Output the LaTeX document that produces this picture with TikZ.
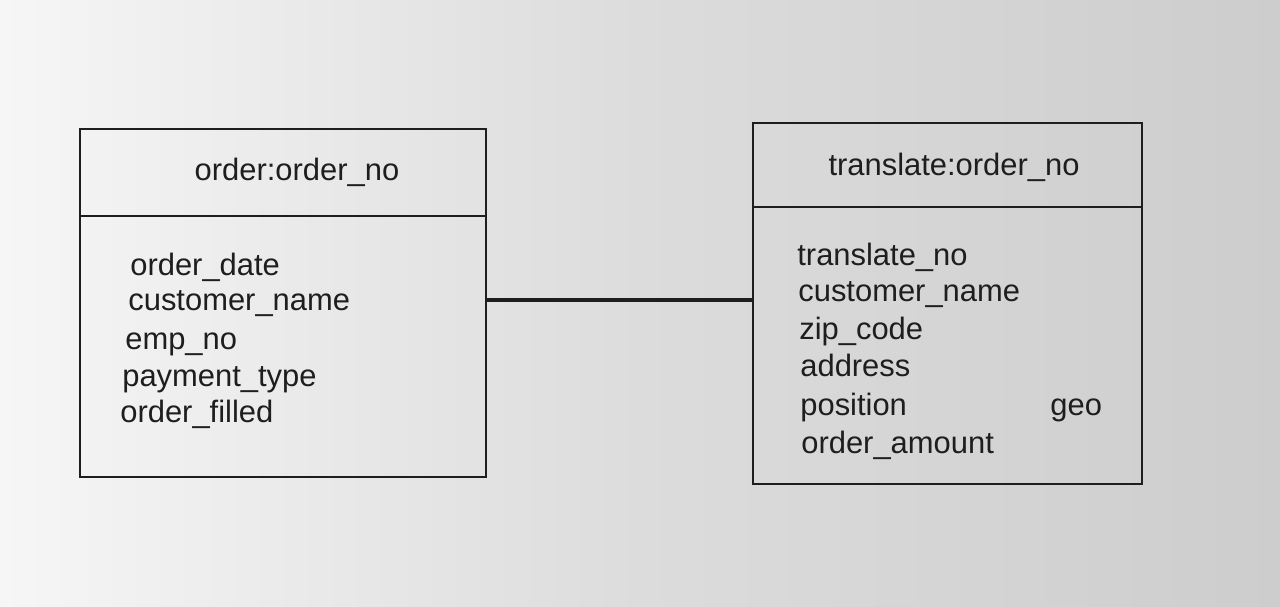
\documentclass[tikz,border=0pt]{standalone}
\usepackage{fontspec}
\setmainfont{Liberation Sans}
\usetikzlibrary{fit}
\definecolor{ink}{HTML}{1E1E1E}
\definecolor{paperL}{HTML}{F6F6F6}
\definecolor{paperM}{HTML}{DCDCDC}
\definecolor{paperR}{HTML}{CDCDCD}
\tikzset{
  entity/.style={draw=ink, line width=1.1pt, inner sep=0pt},
  divider/.style={draw=ink, line width=1.3pt},
  link/.style={draw=ink, line width=2.2pt},
  field/.style={anchor=base west, inner sep=0pt, text=ink, font=\fontsize{17.6}{20}\selectfont},
  title/.style={anchor=base, inner sep=0pt, text=ink, font=\fontsize{17.6}{20}\selectfont}
}
\begin{document}
\begin{tikzpicture}[x=0.02cm, y=-0.02cm]
  \shade[left color=paperL, right color=paperR, middle color=paperM] (0,0) rectangle (1280,606);
  \useasboundingbox (0,0) rectangle (1280,606);

  % left entity
  \node[entity, fit={(80,129) (486,477)}] (L) {};
  \coordinate (Ld1) at (80,216);
  \coordinate (Ld2) at (486,216);
  \draw[divider] (Ld1) -- (Ld2);
  \node[title] (Lt) at (297,180) {order:order\_no};
  \node[field] (L1) at (130,275) {order\_date};
  \node[field] (L2) at (128,310) {customer\_name};
  \node[field] (L3) at (125,349) {emp\_no};
  \node[field] (L4) at (122,386) {payment\_type};
  \node[field] (L5) at (120,422) {order\_filled};

  % right entity
  \node[entity, fit={(753,123) (1142,484)}] (R) {};
  \coordinate (Rd1) at (753,207);
  \coordinate (Rd2) at (1142,207);
  \draw[divider] (Rd1) -- (Rd2);
  \node[title] (Rt) at (954,175) {translate:order\_no};
  \node[field] (R1) at (797,265) {translate\_no};
  \node[field] (R2) at (798,301) {customer\_name};
  \node[field] (R3) at (799,339) {zip\_code};
  \node[field] (R4) at (800,376) {address};
  \node[field] (R5) at (800,415) {position};
  \node[field] (R6) at (1050,415) {geo};
  \node[field] (R7) at (801,453) {order\_amount};

  % relationship
  \coordinate (c) at (600,300);
  \draw[link] (L.east |- c) -- (R.west |- c);
\end{tikzpicture}
\end{document}
